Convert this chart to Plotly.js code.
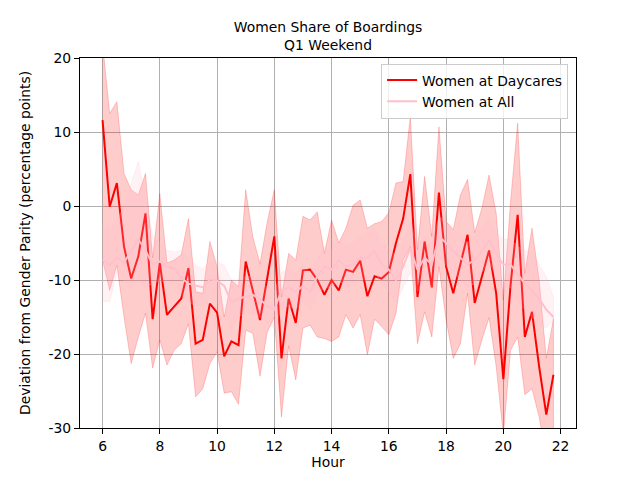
<!DOCTYPE html>
<html>
<head>
<meta charset="utf-8">
<script src="https://cdn.plot.ly/plotly-3.0.1.min.js"></script>
<style>html,body{margin:0;padding:0;background:#fff;}#chart{width:640px;height:480px;}</style>
</head>
<body>
<div id="chart"></div>
<script>
const hours = [6,6.25,6.5,6.75,7,7.25,7.5,7.75,8,8.25,8.5,8.75,9,9.25,9.5,9.75,
  10,10.25,10.5,10.75,11,11.25,11.5,11.75,12,12.25,12.5,12.75,13,13.25,13.5,13.75,
  14,14.25,14.5,14.75,15,15.25,15.5,15.75,16,16.25,16.5,16.75,17,17.25,17.5,17.75,
  18,18.25,18.5,18.75,19,19.25,19.5,19.75,20,20.25,20.5,20.75,21,21.25,21.5,21.75];

const daycareMean = [11.6,-0.1,3.1,-5.5,-9.8,-6.8,-1.0,-15.3,-7.7,-14.7,-13.6,-12.5,-8.4,-18.6,-18.1,-13.2,
  -14.4,-20.3,-18.3,-18.8,-7.5,-11.4,-15.4,-9.8,-4.1,-20.6,-12.5,-15.8,-8.7,-8.6,-10.0,-12.0,
  -10.0,-11.4,-8.6,-8.9,-7.4,-12.2,-9.5,-9.8,-8.9,-5.0,-1.7,4.3,-12.3,-4.8,-11.0,1.8,
  -8.2,-11.8,-8.0,-3.9,-13.1,-9.6,-6.0,-11.8,-23.4,-10.8,-1.2,-17.7,-14.3,-21.7,-28.2,-22.8];

const daycareUpper = [22,12.5,14.1,4.4,2.2,1.5,4.4,-7,1.7,-7.7,-7.3,-6.6,-1.7,-11.6,-11.8,-4.8,
  -8.2,-15.0,-10.0,-10.9,2.2,-4.2,-7.8,-2.2,2.2,-12.3,-6.4,-7.3,-1.4,-1.9,-0.8,-6.4,
  -1.9,-5.0,-3.0,0.1,0.8,-3.0,-2.4,-2.1,-0.9,3.1,3.3,12.1,-5.9,4.0,-4.1,10.7,
  -2.1,-3.2,1.5,3.6,-3.6,-0.3,4.2,-1.0,-12.7,0.5,11.2,-9.1,-3.0,-10.0,-20.6,-15.2];

const daycareLower = [-7.3,-11.4,-8.0,-15.0,-21.3,-17.7,-14.5,-21.9,-18.1,-21.5,-19.5,-18.6,-15.9,-25.8,-24.7,-21.3,
  -19.7,-25.3,-25.1,-26.8,-16.8,-17.2,-23.0,-17.1,-15.0,-28.5,-18.9,-23.5,-16.5,-16.1,-17.7,-17.9,
  -18.3,-17.7,-14.7,-16.5,-14.7,-20.1,-15.3,-16.3,-17.4,-14.5,-7.3,-5.5,-18.6,-14.3,-17.7,-8.2,
  -15.4,-20.6,-18.6,-11.8,-21.5,-18.1,-15.1,-21.7,-31.0,-19.5,-17.7,-25.5,-24.7,-28.5,-34.0,-31.0];

const allMean = [-7.3,-8.0,-6.9,-7.7,-6.0,-4.5,-6.0,-7.9,-7.5,-8.2,-8.4,-9.7,-10.5,-10.8,-11.0,-9.9,
  -10.1,-10.8,-13.0,-12.5,-12.2,-12.0,-12.6,-13.5,-14.0,-11.4,-11.0,-11.6,-10.8,-11.6,-9.5,-8.2,
  -8.6,-7.3,-8.2,-7.9,-7.0,-7.0,-6.1,-7.9,-8.6,-10.0,-8.2,-5.7,-8.6,-7.0,-7.9,-4.1,
  -5.0,-6.1,-7.0,-7.9,-7.3,-6.1,-4.6,-6.5,-7.9,-7.9,-9.2,-10.5,-11.4,-12.5,-14.0,-15.0];

const allUpper = [-3,-3,-2,0,3,6,1,-4,-5,-6,-6.2,-6,-7,-8,-8.5,-7.5,
  -7.5,-8,-10,-10,-9.5,-9.5,-10,-11,-11.5,-9,-8.5,-9,-8,-9,-7,-5.5,
  -6,-4.5,-5.5,-5,-4,-3.5,-3,-5,-5.5,-7,-5,-2,-5.5,-4,-5,-1.5,
  -2,-3,-4,-5,-4,-3,-1.5,-3.5,-4.5,-4.5,-5.5,-6,-6.2,-8,-9.5,-12.3];

const allLower = [-12.9,-12.9,-9,-10,-11,-10,-11,-10.5,-10,-10.5,-10.5,-12,-13,-13.5,-13.5,-12.5,
  -13,-14,-16.5,-15,-14.5,-14.5,-15,-16,-16.5,-14,-13.5,-14,-13,-14,-12,-11,
  -11,-10,-11,-10.5,-10,-10,-9,-10.5,-11.5,-13,-11,-9,-11.5,-10,-11,-7,
  -8,-9,-10,-11,-10.5,-9,-7.5,-9.5,-11,-11,-13,-14,-15,-16,-16.5,-15.5];

const xTicks = [6,8,10,12,14,16,18,20,22];
const yTicks = [-30,-20,-10,0,10,20];

function band(upper, lower) {
  return {
    x: hours.concat(hours.slice().reverse()),
    y: upper.concat(lower.slice().reverse())
  };
}
const rb = band(daycareUpper, daycareLower);
const pb = band(allUpper, allLower);

const FONT = 'DejaVu Sans, sans-serif';
const FS = 13.9;

const traces = [
  {x: rb.x, y: rb.y, type: 'scatter', mode: 'lines', fill: 'toself',
   fillcolor: 'rgba(255,0,0,0.2)', line: {color: 'rgba(255,0,0,0.2)', width: 1},
   showlegend: false, hoverinfo: 'skip'},
  {x: hours, y: daycareMean, type: 'scatter', mode: 'lines', name: 'Women at Daycares',
   line: {color: '#ff0000', width: 2}},
  {x: pb.x, y: pb.y, type: 'scatter', mode: 'lines', fill: 'toself',
   fillcolor: 'rgba(255,192,203,0.2)', line: {color: 'rgba(255,192,203,0.2)', width: 1},
   showlegend: false, hoverinfo: 'skip'},
  {x: hours, y: allMean, type: 'scatter', mode: 'lines', name: 'Women at All',
   line: {color: '#ffc0cb', width: 2}}
];

const axisCommon = {
  showgrid: true, gridcolor: '#b0b0b0', gridwidth: 1,
  showline: true, mirror: true, linecolor: '#000', linewidth: 1,
  ticks: 'outside', ticklen: 5, tickwidth: 1, tickcolor: '#000',
  zeroline: false, tickfont: {family: FONT, size: FS, color: '#000'}
};

const layout = {
  width: 640, height: 480,
  margin: {l: 80, r: 64, t: 58, b: 52},
  paper_bgcolor: '#fff', plot_bgcolor: '#fff',
  font: {family: FONT, size: FS, color: '#000'},
  title: {text: 'Women Share of Boardings<br>Q1 Weekend', font: {family: FONT, size: FS, color: '#000'},
    x: 0.5, xref: 'paper', y: 1 - 32 / 480, yref: 'container', yanchor: 'top'},
  xaxis: Object.assign({}, axisCommon, {
    range: [5.2125, 22.5375], tickvals: xTicks, ticktext: xTicks.map(String),
    title: {text: 'Hour', font: {family: FONT, size: FS, color: '#000'}, standoff: 4}
  }),
  yaxis: Object.assign({}, axisCommon, {
    range: [-30, 20], tickvals: yTicks, ticktext: yTicks.map(String),
    title: {text: 'Deviation from Gender Parity (percentage points)', font: {family: FONT, size: FS, color: '#000'}, standoff: 14}
  }),
  legend: {x: 0.984, xanchor: 'right', y: 0.985, yanchor: 'top',
    bgcolor: 'rgba(255,255,255,0.8)', bordercolor: '#cccccc', borderwidth: 1,
    font: {family: FONT, size: FS, color: '#000'}, tracegroupgap: 0},
  showlegend: true
};

Plotly.newPlot('chart', traces, layout, {displayModeBar: false, staticPlot: true});
</script>
</body>
</html>
